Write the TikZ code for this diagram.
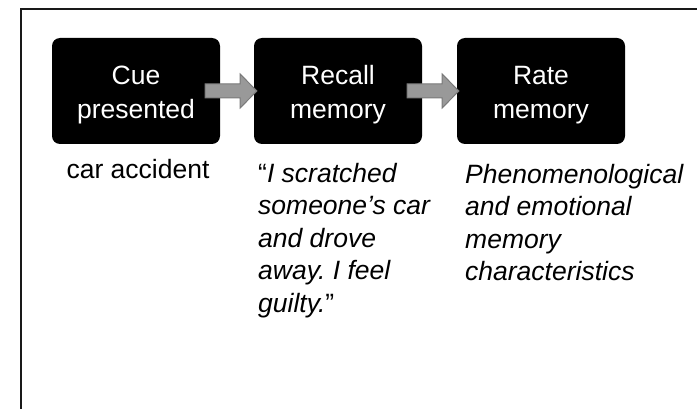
\documentclass[tikz,border=0pt]{standalone}
\usepackage{fontspec}
\setmainfont{Liberation Sans}
\usetikzlibrary{calc}
\frenchspacing
\tikzset{
  stepbox/.style={draw=none, fill=black, rounded corners=8pt, minimum width=168pt,
    minimum height=106pt, inner sep=0pt},
  boxtext/.style={inner sep=0pt, text=white, align=center,
    font=\fontsize{26.5}{34}\selectfont},
  caption/.style={inner sep=0pt, align=left, text=black,
    font=\fontsize{26.5}{32.5}\selectfont},
  blockarrow/.style={fill=black!40, draw=black!52, line width=1pt, line join=miter},
  frame/.style={draw=black!90, line width=2pt}
}
\begin{document}
\begin{tikzpicture}[x=1pt,y=-1pt]
\useasboundingbox (0,0) rectangle (697,409);
\coordinate (fl) at (21,410);
\coordinate (fc) at (21,9);
\coordinate (fr) at (698,9);
\draw[frame] (fl) -- (fc) -- (fr);

\node[stepbox] (cue) at (136,91) {};
\node[stepbox] (recall) at (338,91) {};
\node[stepbox] (rate) at (541,91) {};
\node[boxtext] (cuetext) at ($(cue.center)+(0,4)$) {Cue\\presented};
\node[boxtext] (recalltext) at ($(recall.center)+(0,4)$) {Recall\\memory};
\node[boxtext] (ratetext) at ($(rate.center)+(0,4)$) {Rate\\memory};

% block arrows
\coordinate (a1) at ($(cue.east)+(-15,0)$);
\draw[blockarrow] ($(a1)+(0,-7)$) -- ++(35,0) -- ++(0,-10) -- ($(recall.west)+(3,0)$)
  -- ($(a1)+(35,17)$) -- ++(0,-10) -- ++(-35,0) -- cycle;
\coordinate (a2) at ($(recall.east)+(-15,0)$);
\draw[blockarrow] ($(a2)+(0,-7)$) -- ++(35,0) -- ++(0,-10) -- ($(rate.west)+(2,0)$)
  -- ($(a2)+(35,17)$) -- ++(0,-10) -- ++(-35,0) -- cycle;

\node[caption, anchor=base] (lab1) at (138,179) {car accident};
\node[caption, anchor=north west] (lab2) at (258,163)
  {“\itshape I scratched\\\itshape someone’s car\\\itshape and drove\\\itshape away. I feel\\\itshape guilty.\upshape ”};
\node[caption, anchor=north west] (lab3) at (465,164)
  {\itshape Phenomenological\\\itshape and emotional\\\itshape memory\\\itshape characteristics};
\end{tikzpicture}
\end{document}
